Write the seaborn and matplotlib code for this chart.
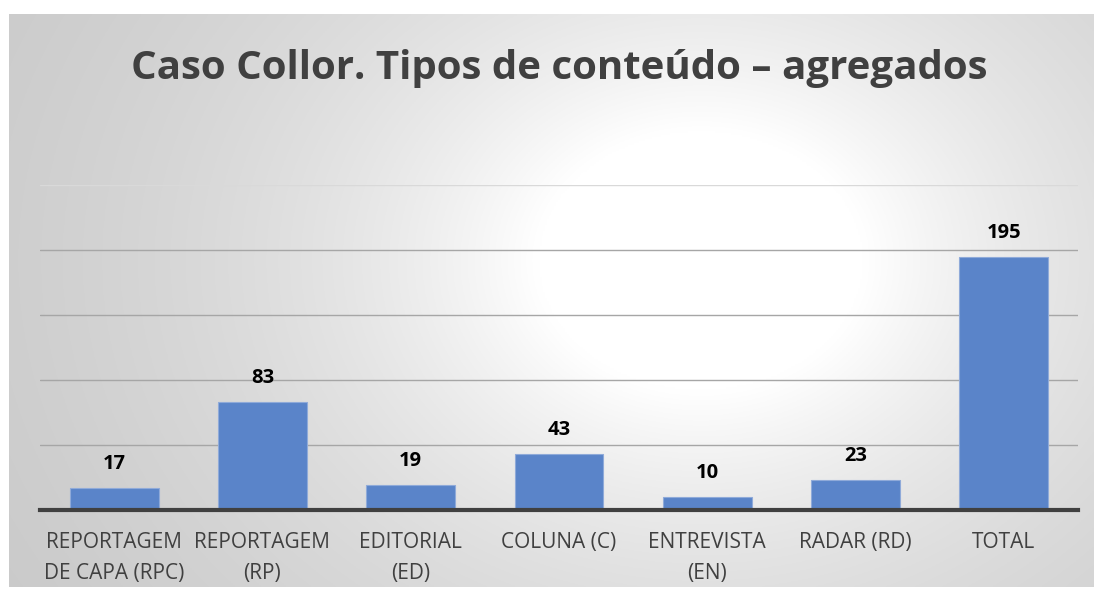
import numpy as np
import pandas as pd
import matplotlib
matplotlib.use("Agg")
import matplotlib.pyplot as plt
import seaborn as sns

categories = ["REPORTAGEM\nDE CAPA (RPC)", "REPORTAGEM\n(RP)", "EDITORIAL\n(ED)",
              "COLUNA (C)", "ENTREVISTA\n(EN)", "RADAR (RD)", "TOTAL"]
values = [17, 83, 19, 43, 10, 23, 195]
title = "Caso Collor. Tipos de conteúdo – agregados"

df = pd.DataFrame({"tipo": categories, "n": values})

sns.set_theme(style="white")
plt.rcParams["font.family"] = ["Open Sans", "DejaVu Sans"]

W, H = 1094, 591
fig = plt.figure(figsize=(W / 100, H / 100), dpi=100)
fig.patch.set_facecolor("white")

# radial gray background (chart area frame)
bg = fig.add_axes([9 / W, 4 / H, (W - 9) / W, (H - 18) / H])
yy, xx = np.mgrid[0:300, 0:600]
xs = xx / 600 * (W - 9) + 9
ys = yy / 300 * (H - 18) + 14
d = np.hypot((xs - 700) / 1.25, (ys - 260))
shade = 255 - 64 * (1 - np.exp(-np.clip(d - 130, 0, None) / 300))
img = np.dstack([shade, shade, shade]) / 255
bg.imshow(img, aspect="auto", extent=[0, 1, 0, 1], origin="upper")
bg.set_axis_off()

ax = fig.add_axes([40 / W, 1 - 510 / H, 1038 / W, 325 / H])
ax.patch.set_alpha(0)
sns.barplot(data=df, x="tipo", y="n", color="#5A84C9", saturation=1, width=0.6,
            edgecolor="#8FAAD9", linewidth=0.8, ax=ax)
ax.set_ylim(0, 250)
ax.set_xlim(-0.5, len(categories) - 0.5)
ax.set_yticks([0, 50, 100, 150, 200, 250])
ax.yaxis.grid(True, color="#A6A6A6", linewidth=1)
gl = ax.yaxis.get_gridlines()
gl[-1].set_color("#D9D9D9")
ax.set_axisbelow(True)
ax.tick_params(axis="y", left=False, labelleft=False)
ax.tick_params(axis="x", bottom=False, labelsize=15, labelcolor="#404040", pad=10)
for lbl in ax.get_xticklabels():
    lbl.set_linespacing(1.6)
for s in ["top", "left", "right"]:
    ax.spines[s].set_visible(False)
ax.spines["bottom"].set_color("#404040")
ax.spines["bottom"].set_linewidth(3)
ax.set_xlabel("")
ax.set_ylabel("")

for i, v in enumerate(values):
    ax.annotate(str(v), (i, v), xytext=(0, 10), textcoords="offset points",
                ha="center", va="bottom", fontsize=14.5, fontweight="bold", color="black")

fig.text(559 / W, 1 - 68 / H, title, ha="center", va="center",
         fontsize=29, fontweight="bold", color="#404040")

fig.savefig("out.png", dpi=100)
